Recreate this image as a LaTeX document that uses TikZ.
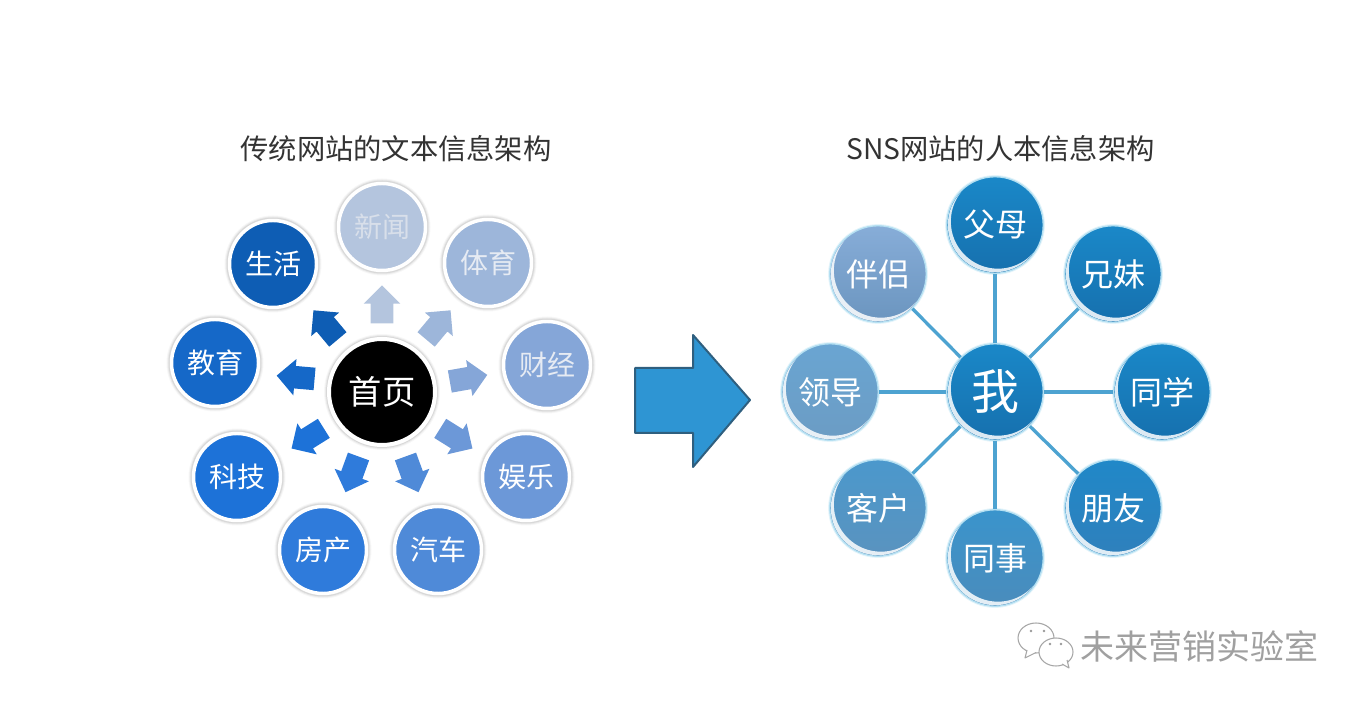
\documentclass[tikz,border=0pt]{standalone}
\usepackage{fontspec}
\setmainfont{Noto Sans CJK SC}
\usetikzlibrary{shapes.arrows,calc}
\definecolor{tTitle}{HTML}{333333}
\definecolor{cA}{HTML}{B4C5DE}\definecolor{cB}{HTML}{9DB6DA}\definecolor{cC}{HTML}{85A6D8}
\definecolor{cD}{HTML}{6C98D8}\definecolor{cE}{HTML}{4F8AD8}\definecolor{cF}{HTML}{2F7BDB}
\definecolor{cG}{HTML}{1D72D8}\definecolor{cH}{HTML}{1568C8}\definecolor{cI}{HTML}{0E5DB4}
\definecolor{tA}{HTML}{D8DFEA}\definecolor{tB}{HTML}{E6EBF3}
\definecolor{linkc}{HTML}{4DA3D1}\definecolor{rimc}{HTML}{B5E0F2}
\definecolor{arrowf}{HTML}{2E95D3}\definecolor{arrowd}{HTML}{2F5F7F}
\definecolor{wm}{HTML}{A0A0A0}
\definecolor{dT}{HTML}{1A88C8}\definecolor{dB}{HTML}{1670AE}
\definecolor{eT}{HTML}{2088C8}\definecolor{eB}{HTML}{2F80BC}
\definecolor{fT}{HTML}{3A94CC}\definecolor{fB}{HTML}{4A8CBC}
\definecolor{gT}{HTML}{4B98CC}\definecolor{gB}{HTML}{5A93BF}
\definecolor{hT}{HTML}{6AA5D2}\definecolor{hB}{HTML}{6B9CC4}
\definecolor{iT}{HTML}{87ADD8}\definecolor{iB}{HTML}{6B95BF}
\tikzset{
  x=0.75pt,y=0.75pt,
  halo/.style={
    preaction={draw=black,opacity=.03,line width=7.5pt},
    preaction={draw=black,opacity=.05,line width=6pt},
    preaction={draw=black,opacity=.08,line width=4.5pt}},
  flat/.style={circle,inner sep=0pt,minimum size=87*0.75pt,fill=#1,draw=white,line width=2.6pt,halo,
    text=white,font=\fontsize{21}{21}\selectfont},
  hubblack/.style={circle,inner sep=0pt,minimum size=106*0.75pt,fill=black,draw=white,line width=3pt,halo,
    text=white,font=\fontsize{25}{25}\selectfont},
  ptr/.style={single arrow,inner xsep=0pt,inner ysep=11*0.75pt,minimum height=38*0.75pt,
    single arrow head extend=7*0.75pt,fill=#1,draw=none},
  ball/.style n args={2}{circle,inner sep=0pt,minimum size=96.5*0.75pt,draw=rimc,line width=1pt,
    top color=#1,bottom color=#2,
    preaction={draw=rimc,opacity=.35,line width=2.5pt},
    text=white,font=\fontsize{24}{24}\selectfont},
  link/.style={draw=linkc,line width=2.5pt},
  heading/.style={text=tTitle,font=\fontsize{21.2}{21.2}\selectfont,inner sep=0pt},
  bubble/.style={draw=black!35,fill=white,line width=.8pt,line join=round},
  eye/.style={fill=black!40},
}
\newcommand{\gloss}[3]{%
  \begin{scope}
    \clip (#1,#2) circle (#3-1);
    \fill[white,opacity=.85,even odd rule] ($(#1,#2)+(-70,-70)$) rectangle ($(#1,#2)+(70,70)$)
      ($(#1,#2)+(3,3.5)$) circle (#3-1);
  \end{scope}}
\begin{document}
\begin{tikzpicture}
\useasboundingbox (0,0) rectangle (1362,706);
% left diagram
\node[heading] (titleL) at (396,557.5) {传统网站的文本信息架构};
\node[flat=cA,text=tA] (xinwen) at (382,479) {新闻};
\node[flat=cB,text=tB] (tiyu) at (488,443) {体育};
\node[flat=cC,text=tB] (caijing) at (547,341) {财经};
\node[flat=cD] (yule) at (526,229) {娱乐};
\node[flat=cE] (qiche) at (438,156) {汽车};
\node[flat=cF] (fangchan) at (323,156) {房产};
\node[flat=cG] (keji) at (237,229) {科技};
\node[flat=cH] (jiaoyu) at (215,343) {教育};
\node[flat=cI] (shenghuo) at (273,442) {生活};
\node[hubblack] (home) at (382,314) {首页};
\node[ptr=cA,rotate=90] (a1) at ($(home)+(90:82)$) {};
\node[ptr=cB,rotate=50] (a2) at ($(home)+(50:82)$) {};
\node[ptr=cC,rotate=10] (a3) at ($(home)+(9:82)$) {};
\node[ptr=cD,rotate=-32] (a4) at ($(home)+(-32:82)$) {};
\node[ptr=cE,rotate=-70] (a5) at ($(home)+(-70:82)$) {};
\node[ptr=cF,rotate=-110] (a6) at ($(home)+(-110:82)$) {};
\node[ptr=cG,rotate=-148] (a7) at ($(home)+(-148:82)$) {};
\node[ptr=cH,rotate=175] (a8) at ($(home)+(170:82)$) {};
\node[ptr=cI,rotate=130] (a9) at ($(home)+(130:82)$) {};
% big arrow
\draw[fill=arrowf,draw=arrowd,line width=1.5pt,line join=round]
  (635,338) -- (693,338) -- (693,371) -- (750,306) -- (693,239) -- (693,273) -- (635,273) -- cycle;
% right diagram
\node[heading] (titleR) at (1000.5,557.5) {SNS网站的人本信息架构};
\node[ball={dT}{dB},font=\fontsize{36}{36}\selectfont] (me) at (995,314) {我};
\node[ball={dT}{dB}] (fumu) at (995,481) {父母};
\node[ball={dT}{dB}] (xiongmei) at (1113,432) {兄妹};
\node[ball={dT}{dB}] (tongxue) at (1162,314) {同学};
\node[ball={eT}{eB}] (pengyou) at (1113,198) {朋友};
\node[ball={fT}{fB}] (tongshi) at (995,148) {同事};
\node[ball={gT}{gB}] (kehu) at (878,198) {客户};
\node[ball={hT}{hB}] (lingdao) at (830,314) {领导};
\node[ball={iT}{iB}] (banlv) at (878,432) {伴侣};
\foreach \n in {fumu,xiongmei,tongxue,pengyou,tongshi,kehu,lingdao,banlv}
  \draw[link] (me) -- (\n);
\gloss{995}{314}{48.2}
\gloss{995}{481}{48.2}
\gloss{1113}{432}{48.2}
\gloss{1162}{314}{48.2}
\gloss{1113}{198}{48.2}
\gloss{995}{148}{48.2}
\gloss{878}{198}{48.2}
\gloss{830}{314}{48.2}
\gloss{878}{432}{48.2}
% watermark
\draw[bubble] (1036,68) circle [x radius=18,y radius=15];
\draw[bubble] (1027,56) -- (1025,48) -- (1036,53.5);
\draw[draw=white,line width=1.4pt] (1028,55.5) -- (1035,55);
\draw[bubble] (1056,54) circle [x radius=17,y radius=14];
\draw[bubble] (1062,42) -- (1069,38) -- (1067,46);
\draw[draw=white,line width=1.4pt] (1062.5,43.5) -- (1066,45);
\fill[eye] (1031,75) circle (1.4) (1044,75) circle (1.4) (1050,62) circle (1.4) (1061,62) circle (1.4);
\node[text=wm,font=\fontsize{25.5}{25.5}\selectfont,inner sep=0pt] (brand) at (1199.5,60) {未来营销实验室};
\end{tikzpicture}
\end{document}
